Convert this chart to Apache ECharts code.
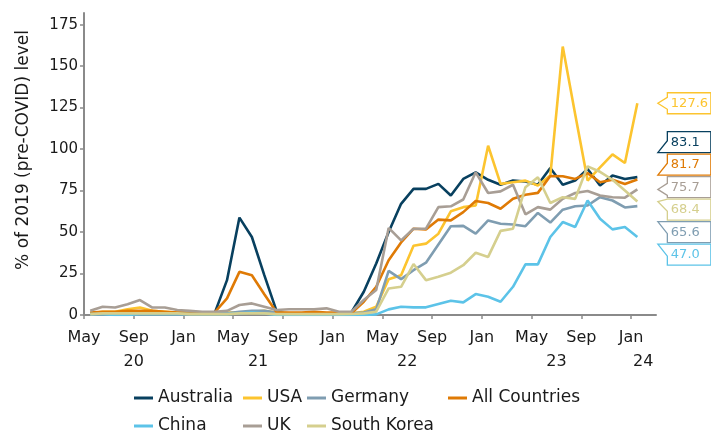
<!DOCTYPE html>
<html><head><meta charset="utf-8">
<script src="https://cdn.jsdelivr.net/npm/echarts@6/dist/echarts.min.js"></script>
<style>html,body{margin:0;padding:0;background:#fff}#c{width:711px;height:432px}</style>
</head><body><div id="c"></div>
<script>
// Monthly categories (data runs May 2020 .. Jan 2024; Feb 2024 is an empty slot at the axis end)
const months = ['2020-05','2020-06','2020-07','2020-08','2020-09','2020-10','2020-11','2020-12',
  '2021-01','2021-02','2021-03','2021-04','2021-05','2021-06','2021-07','2021-08','2021-09','2021-10','2021-11','2021-12',
  '2022-01','2022-02','2022-03','2022-04','2022-05','2022-06','2022-07','2022-08','2022-09','2022-10','2022-11','2022-12',
  '2023-01','2023-02','2023-03','2023-04','2023-05','2023-06','2023-07','2023-08','2023-09','2023-10','2023-11','2023-12',
  '2024-01','2024-02'];
// Month-boundary tick labels (every 4 months from May 2020)
const xTickLabels = ['May','Sep','Jan','May','Sep','Jan','May','Sep','Jan','May','Sep','Jan'];
const yearLabels = ['20','21','22','23','24'];
const yearLabelAt = [4,14,26,38,44];
const yTicks = [0,25,50,75,100,125,150,175];

const australia = [1,1,1,1.5,1.5,1.5,1.5,1,1,1,1,
  21,58.7,47,24,2,0.5,0.5,0.5,0.5,0.5,
  1.5,14,31,50,67,76,76,79,72,82,86,81.5,
  78.5,81,80.5,78.5,88.6,78.5,81,88,78,84,82,83.1];
const usa = [1,2,2,3.5,4.5,2.5,2,1.5,1.5,1.5,1.5,
  1.5,1.5,2,2.5,1.5,1,1,1,1,1,
  1,2,5,21.5,24,41.7,43,49,62.5,65,66,102,
  79,80,81,78,84,161.8,121,81,89,96.8,91.6,127.6];
const germany = [0.5,1,1,1.5,1.5,1.5,1,1,1,1,1,
  1,2,2.5,2.5,1.5,1,1,1,1,1,
  1,1.5,3.4,26.6,21.6,27,31.5,42.5,53.5,53.7,49,57,
  55,54.5,53.5,61.5,55.7,63.5,65.5,66,71,69,64.8,65.6];
const allCountries = [1.5,2,2,2.5,2.5,2.5,2,1.5,1.5,1.5,1.5,
  10,26,24,12.5,1.5,1.5,1.5,2,1.5,1.5,
  1,8,17,33,43.7,52,51.5,57.5,57,62,68.7,67.5,
  64,70,72.5,73.6,83.8,83.6,82,85.5,80,81.5,79,81.7];
const china = [0.5,0.5,0,0,0.5,0.5,0.5,0.5,0.5,0.5,0.5,
  0.5,1,1.5,1,0,0,0,0,0,0,
  0,0,0.4,3.4,5,4.6,4.6,6.6,8.6,7.6,12.6,11,
  8,17,30.5,30.5,47,56,53,69,58,51.6,53,47.0];
const uk = [2.5,5,4.5,6.5,9,4.5,4.5,3,2.5,2,2,
  2.5,6,7,5,3,3.5,3.5,3.5,4,2,
  2,9,15,52.5,45,52,52,65,65.5,69.6,86,73.5,
  74.5,78.5,60.7,65,63.5,70,73.5,74.7,72,71,70.7,75.7];
const southKorea = [0.5,1,1,1,1,1,1,1,0.5,0.5,0.5,
  0.5,1,1,1,0.5,0.5,0.5,0.5,0.5,0.5,
  0.6,1,2,16,17,30.7,21,23,25.5,30,37.5,35,
  50.7,52,77,83,67.5,71,70,89.6,86.3,81.5,75,68.4];

const seriesDefs = [
  {name:'Australia', data:australia, color:'#08405f'},
  {name:'USA', data:usa, color:'#fcc42f'},
  {name:'Germany', data:germany, color:'#7f9db1'},
  {name:'All Countries', data:allCountries, color:'#df7a05'},
  {name:'China', data:china, color:'#5cc3e8'},
  {name:'UK', data:uk, color:'#a89e95'},
  {name:'South Korea', data:southKorea, color:'#d5cf8e'}
];
// legend placement (styling): [left, top] per series
const legendPos = {'Australia':[134,388], 'USA':[243,388], 'Germany':[307,388], 'All Countries':[448,388],
  'China':[134,416], 'UK':[243,416], 'South Korea':[307,416]};

const FONT = 'DejaVu Sans';
const lastIdx = australia.length - 1;
const tagData = seriesDefs.map((s, k) => [lastIdx, s.data[lastIdx], k]);

function layoutTags(api) {
  const P = 22.5;
  const items = tagData.map(d => ({k: d[2], y: api.coord([d[0], d[1]])[1]}));
  items.sort((a, b) => a.y - b.y);
  let groups = items.map(it => ({members:[it], c: it.y}));
  let changed = true;
  while (changed) {
    changed = false;
    for (let i = 0; i < groups.length - 1; i++) {
      const a = groups[i], b = groups[i+1];
      if (a.c + a.members.length*P/2 > b.c - b.members.length*P/2) {
        const m = a.members.concat(b.members);
        const c = m.reduce((s, it) => s + it.y, 0) / m.length;
        groups.splice(i, 2, {members:m, c:c});
        changed = true; break;
      }
    }
  }
  const pos = {};
  groups.forEach(g => {
    const n = g.members.length;
    g.members.forEach((it, j) => { pos[it.k] = g.c + (j - (n-1)/2) * P; });
  });
  return pos;
}

function renderTag(params, api) {
  const k = api.value(2);
  const anchor = api.coord([api.value(0), api.value(1)]);
  const pos = layoutTags(api);
  const cy = pos[k];
  const H = 21, L = anchor[0] + 30, R = anchor[0] + 73.5;
  const top = cy - H/2, bottom = cy + H/2;
  const tipX = anchor[0] + 20.5;
  const tipY = Math.max(top, Math.min(bottom, anchor[1]));
  const y1 = Math.max(top, Math.min(bottom - 12, tipY - 6));
  const y2 = y1 + 12;
  const col = seriesDefs[k].color;
  return {
    type:'group',
    children:[
      {type:'polygon', shape:{points:[[L,top],[R,top],[R,bottom],[L,bottom],[L,y2],[tipX,tipY],[L,y1]]},
       style:{fill:'#fff', stroke:col, lineWidth:1.3}},
      {type:'text', style:{x:L+3.5, y:cy, text:api.value(1).toFixed(1), fill:col,
       font:'13px "DejaVu Sans"', align:'left', verticalAlign:'middle'}}
    ]
  };
}

const lineSeries = seriesDefs.map(s => ({
  name:s.name, type:'line', data:s.data, xAxisIndex:0, yAxisIndex:0,
  symbol:'none', lineStyle:{width:2.6, color:s.color}, itemStyle:{color:s.color}
}));

const legends = seriesDefs.map(s => ({
  data:[s.name], left:legendPos[s.name][0], top:legendPos[s.name][1],
  icon:'rect', itemWidth:19, itemHeight:3, padding:0,
  textStyle:{fontSize:17, color:'#1a1a1a', fontFamily:FONT, lineHeight:20}
}));
const boundaries = months.concat(['2024-03']);
const isMonthTick = (i) => i % 4 === 0 && i <= 44;

const option = {
  animation:false,
  textStyle:{fontFamily:FONT},
  grid:{left:84, right:55, top:13, bottom:117, containLabel:false},
  xAxis:[
    {type:'category', data:months, boundaryGap:true, position:'bottom',
     axisLine:{show:true, lineStyle:{color:'#8a8a8a', width:2}},
     axisTick:{show:false}, axisLabel:{show:false}, splitLine:{show:false}},
    {type:'category', data:boundaries, boundaryGap:false, position:'bottom',
     axisLine:{show:false},
     axisTick:{show:true, length:4, interval:(i)=> isMonthTick(i), lineStyle:{color:'#8a8a8a', width:1.5}},
     axisLabel:{interval:(i)=> isMonthTick(i) || yearLabelAt.indexOf(i) >= 0,
       formatter:(v, i)=> {
         const m = isMonthTick(i) ? xTickLabels[i/4] : '';
         const yi = yearLabelAt.indexOf(i);
         const y = yi >= 0 ? yearLabels[yi] : '';
         return '{m|' + m + '}\n' + (i === 44 ? '{s|' + y + '}' : '{m|' + y + '}');
       },
       rich:{m:{fontSize:16, lineHeight:24, color:'#1a1a1a', fontFamily:FONT},
             s:{fontSize:16, lineHeight:24, color:'#1a1a1a', fontFamily:FONT, padding:[0,0,0,24]}},
       fontSize:16, lineHeight:24, color:'#1a1a1a', margin:11, fontFamily:FONT},
     splitLine:{show:false}}
  ],
  yAxis:{type:'value', min:0, max:182, interval:25,
    axisLine:{show:true, lineStyle:{color:'#8a8a8a', width:2}},
    axisTick:{show:true, length:4, customValues:yTicks, lineStyle:{color:'#8a8a8a', width:1.5}},
    axisLabel:{customValues:yTicks, fontSize:15, color:'#1a1a1a', margin:6, fontFamily:FONT},
    splitLine:{show:false},
    name:'% of 2019 (pre-COVID) level', nameLocation:'middle', nameGap:52,
    nameTextStyle:{fontSize:17, color:'#1a1a1a', fontFamily:FONT, padding:[0,0,0,28]}},
  legend:legends,
  series: lineSeries.concat([{type:'custom', xAxisIndex:0, yAxisIndex:0, clip:false, silent:true,
    data:tagData, renderItem:renderTag, z:10}])
};
const chart = echarts.init(document.getElementById('c'), null, {renderer:'canvas'});
chart.setOption(option);
</script></body></html>
